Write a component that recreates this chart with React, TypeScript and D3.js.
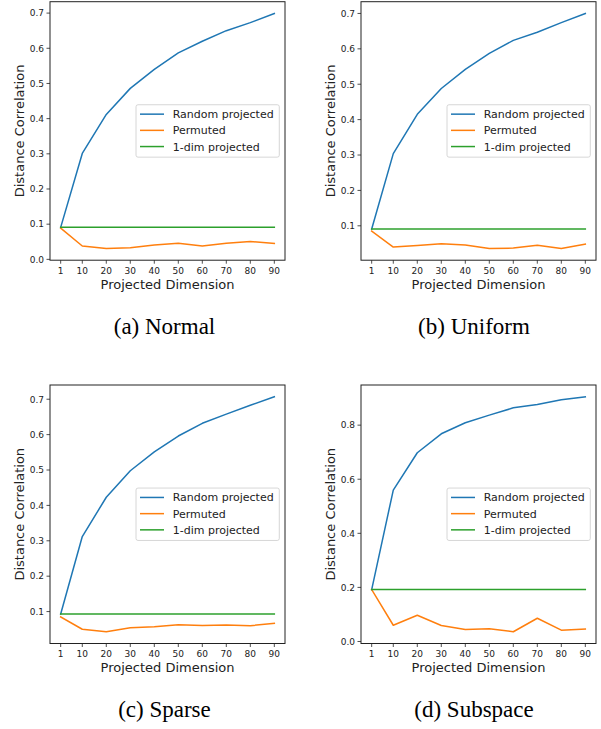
import React from "react";
import * as d3 from "d3";

const dims = [1, 10, 20, 30, 40, 50, 60, 70, 80, 90];
const xTickValues = [1, 10, 20, 30, 40, 50, 60, 70, 80, 90];

const normalRandom = [0.091, 0.301, 0.412, 0.486, 0.54, 0.587, 0.62, 0.65, 0.673, 0.699];
const normalPermuted = [0.089, 0.038, 0.031, 0.033, 0.041, 0.046, 0.038, 0.046, 0.051, 0.045];
const normalOneDim = [0.091, 0.091, 0.091, 0.091, 0.091, 0.091, 0.091, 0.091, 0.091, 0.091];

const uniformRandom = [0.091, 0.304, 0.415, 0.488, 0.542, 0.587, 0.624, 0.647, 0.674, 0.7];
const uniformPermuted = [0.085, 0.04, 0.044, 0.049, 0.046, 0.036, 0.037, 0.045, 0.036, 0.048];
const uniformOneDim = [0.091, 0.091, 0.091, 0.091, 0.091, 0.091, 0.091, 0.091, 0.091, 0.091];

const sparseRandom = [0.093, 0.312, 0.423, 0.498, 0.551, 0.596, 0.632, 0.658, 0.683, 0.707];
const sparsePermuted = [0.085, 0.05, 0.043, 0.054, 0.057, 0.063, 0.061, 0.062, 0.06, 0.067];
const sparseOneDim = [0.093, 0.093, 0.093, 0.093, 0.093, 0.093, 0.093, 0.093, 0.093, 0.093];

const subspaceRandom = [0.192, 0.56, 0.698, 0.768, 0.809, 0.837, 0.864, 0.876, 0.894, 0.905];
const subspacePermuted = [0.192, 0.06, 0.097, 0.059, 0.044, 0.047, 0.036, 0.086, 0.042, 0.046];
const subspaceOneDim = [0.192, 0.192, 0.192, 0.192, 0.192, 0.192, 0.192, 0.192, 0.192, 0.192];

const seriesNames = ["Random projected", "Permuted", "1-dim projected"];
const seriesColors = ["#1f77b4", "#ff7f0e", "#2ca02c"];

const yTicksSmall = [0.0, 0.1, 0.2, 0.3, 0.4, 0.5, 0.6, 0.7];
const yTicksLarge = [0.0, 0.2, 0.4, 0.6, 0.8];

const captions = ["(a) Normal", "(b) Uniform", "(c) Sparse", "(d) Subspace"];

const panels = [
  { series: [normalRandom, normalPermuted, normalOneDim], ticks: yTicksSmall, fmt: ".1f" },
  { series: [uniformRandom, uniformPermuted, uniformOneDim], ticks: yTicksSmall, fmt: ".1f" },
  { series: [sparseRandom, sparsePermuted, sparseOneDim], ticks: yTicksSmall, fmt: ".1f" },
  { series: [subspaceRandom, subspacePermuted, subspaceOneDim], ticks: yTicksLarge, fmt: ".1f" },
];

// layout
const W = 601;
const H = 729;
const colX = [50, 361];
const rowY = [1.7, 385];
const plotW = 235;
const plotH = 258.5;
const captionX = [164.5, 474];
const captionY = [334, 717];

const SANS = "'DejaVu Sans', sans-serif";
const SERIF = "'Liberation Serif', 'Times New Roman', serif";
const INK = "#222";

function Panel({ idx }: { idx: number }) {
  const p = panels[idx];
  const col = idx % 2;
  const row = Math.floor(idx / 2);
  const x0 = colX[col];
  const y0 = rowY[row];

  const xMin = d3.min(dims)!;
  const xMax = d3.max(dims)!;
  const xPad = (xMax - xMin) * 0.05;
  const x = d3.scaleLinear().domain([xMin - xPad, xMax + xPad]).range([x0, x0 + plotW]);

  const all = p.series.flat();
  const yMin = d3.min(all)!;
  const yMax = d3.max(all)!;
  const yPad = (yMax - yMin) * 0.05;
  const y = d3.scaleLinear().domain([yMin - yPad, yMax + yPad]).range([y0 + plotH, y0]);
  const [d0, d1] = y.domain();
  const ticks = p.ticks.filter((t) => t >= d0 - 1e-9 && t <= d1 + 1e-9);
  const fmt = d3.format(p.fmt);

  const line = d3
    .line<number>()
    .x((_, i) => x(dims[i]))
    .y((v) => y(v));

  const bottom = y0 + plotH;

  // legend
  const legW = 143.3;
  const legH = 52.4;
  const legX = x0 + plotW - 5.7 - legW;
  const legY = y0 + plotH / 2 - legH / 2;
  const rowOff = [9.4, 25.6, 41.8];

  return (
    <g>
      {p.series.map((s, i) => (
        <path
          key={i}
          d={line(s) || ""}
          fill="none"
          stroke={seriesColors[i]}
          strokeWidth={1.5}
          strokeLinejoin="round"
          strokeLinecap="square"
        />
      ))}
      <rect
        x={legX}
        y={legY}
        width={legW}
        height={legH}
        rx={2}
        fill="#fff"
        fillOpacity={0.8}
        stroke="#ccc"
        strokeWidth={0.8}
      />
      {seriesNames.map((n, i) => (
        <g key={n}>
          <line
            x1={legX + 4}
            x2={legX + 28}
            y1={legY + rowOff[i]}
            y2={legY + rowOff[i]}
            stroke={seriesColors[i]}
            strokeWidth={1.5}
          />
          <text
            x={legX + 36.7}
            y={legY + rowOff[i] + 4}
            fontFamily={SANS}
            fontSize={11}
            fill={INK}
          >
            {n}
          </text>
        </g>
      ))}
      <rect
        x={x0}
        y={y0}
        width={plotW}
        height={plotH}
        fill="none"
        stroke={INK}
        strokeWidth={1}
      />
      {ticks.map((t) => (
        <g key={"y" + t}>
          <line x1={x0 - 3.5} x2={x0} y1={y(t)} y2={y(t)} stroke={INK} strokeWidth={0.8} />
          <text
            x={x0 - 6}
            y={y(t) + 3.3}
            textAnchor="end"
            fontFamily={SANS}
            fontSize={9}
            fill={INK}
          >
            {fmt(t)}
          </text>
        </g>
      ))}
      {xTickValues.map((t) => (
        <g key={"x" + t}>
          <line x1={x(t)} x2={x(t)} y1={bottom} y2={bottom + 3.5} stroke={INK} strokeWidth={0.8} />
          <text
            x={x(t)}
            y={bottom + 13.8}
            textAnchor="middle"
            fontFamily={SANS}
            fontSize={9}
            fill={INK}
          >
            {t}
          </text>
        </g>
      ))}
      <text
        x={x0 + plotW / 2}
        y={bottom + 28.6}
        textAnchor="middle"
        fontFamily={SANS}
        fontSize={13}
        fill={INK}
      >
        Projected Dimension
      </text>
      <text
        transform={`translate(${x0 - 26.5},${y0 + plotH / 2}) rotate(-90)`}
        textAnchor="middle"
        fontFamily={SANS}
        fontSize={13}
        fill={INK}
      >
        Distance Correlation
      </text>
      <text
        x={captionX[col]}
        y={captionY[row]}
        textAnchor="middle"
        fontFamily={SERIF}
        fontSize={23}
        fill="#000"
      >
        {captions[idx]}
      </text>
    </g>
  );
}

export default function App() {
  return (
    <svg
      width={W}
      height={H}
      viewBox={`0 0 ${W} ${H}`}
      style={{ position: "absolute", left: 0, top: 0, display: "block", background: "#fff" }}
    >
      <rect x={0} y={0} width={W} height={H} fill="#fff" />
      {panels.map((_, i) => (
        <Panel key={i} idx={i} />
      ))}
    </svg>
  );
}
